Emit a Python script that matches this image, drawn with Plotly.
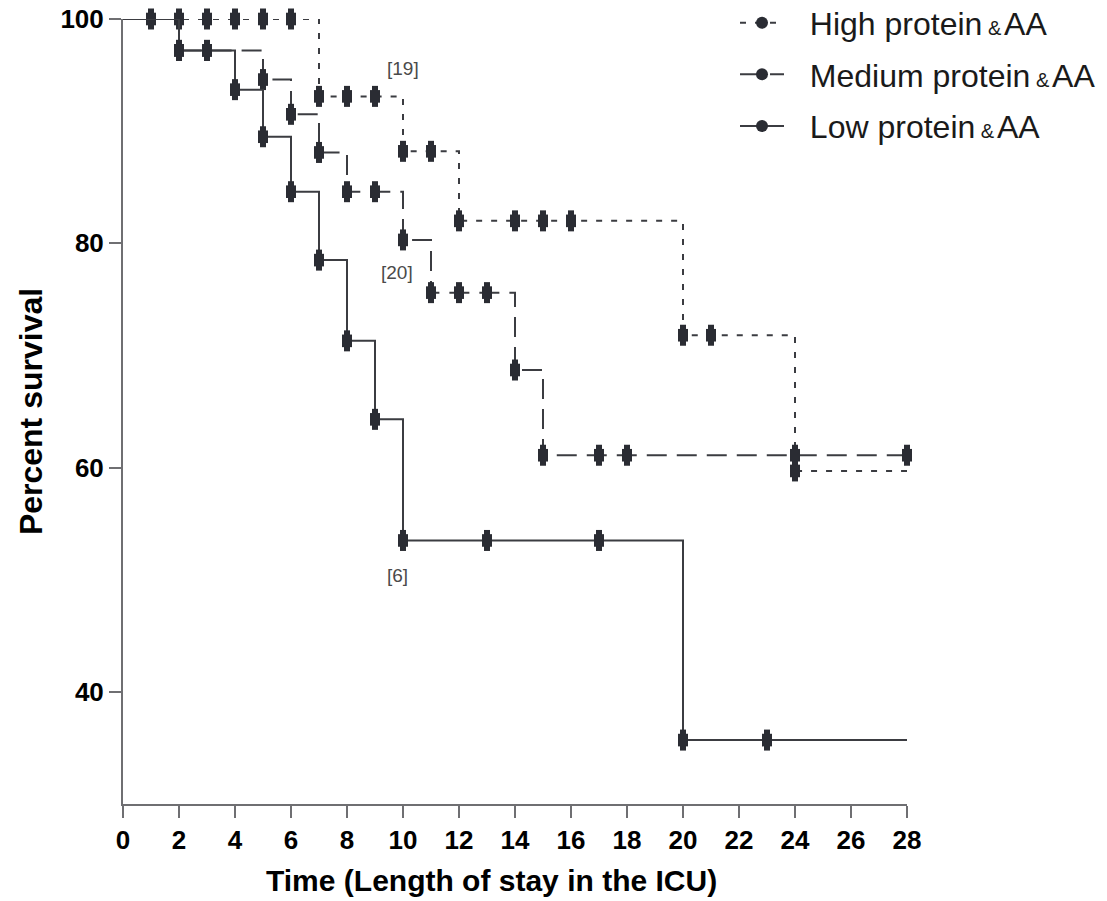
import plotly.graph_objects as go

# Kaplan-Meier survival by protein & amino-acid intake group
x_end = 28

high_times = [0, 7, 10, 12, 20, 24]
high_surv = [100, 93.1, 88.2, 82.0, 71.8, 59.7]
high_marks = [1, 2, 3, 4, 5, 6, 7, 8, 9, 10, 11, 12, 14, 15, 16, 20, 21, 24]

med_times = [0, 2, 5, 6, 7, 8, 10, 11, 14, 15]
med_surv = [100, 97.2, 94.6, 91.5, 88.1, 84.6, 80.3, 75.6, 68.7, 61.1]
med_marks = [2, 3, 5, 6, 7, 8, 9, 10, 11, 12, 13, 14, 15, 17, 18, 24, 28]

low_times = [0, 2, 4, 5, 6, 7, 8, 9, 10, 20]
low_surv = [100, 97.2, 93.7, 89.5, 84.6, 78.5, 71.3, 64.3, 53.5, 35.7]
low_marks = [2, 3, 4, 5, 6, 7, 8, 9, 10, 13, 17, 20, 23]

group_labels = ["High protein", "Medium protein", "Low protein"]

risk_labels = ["[19]", "[20]", "[6]"]
risk_x = [10.0, 9.8, 9.8]
risk_y = [95.6, 77.4, 50.4]

x_ticks = list(range(0, 29, 2))
y_ticks = [40, 60, 80, 100]

LINE_COL = "#3b3c41"
MARK_COL = "#2a2c33"
AXIS_COL = "#6f6f72"
FONT = "Liberation Sans, Arial, sans-serif"
NB = "\u00a0"

# layered marker pieces that together form an upright capsule
MARK_LAYERS = [
    dict(symbol="circle", size=10, line=dict(width=0)),
    dict(symbol="line-ns", size=9, line=dict(width=10, color=MARK_COL)),
    dict(symbol="line-ns", size=15, line=dict(width=6, color=MARK_COL)),
]


def legend_name(label):
    # leading gap after the symbol, small ampersand before "AA"
    return (f"<span style='font-size:25px'>{NB * 3}</span>{label}"
            f"<span style='font-size:20px'>{NB}&amp;</span>"
            f"<span style='font-size:10px'>{NB}</span>AA")


def surv_at(t, times, surv):
    val = surv[0]
    for ti, si in zip(times, surv):
        if ti <= t:
            val = si
    return val


groups = [
    (high_times, high_surv, high_marks, "6px,9px"),
    (med_times, med_surv, med_marks, "20px,10px"),
    (low_times, low_surv, low_marks, "solid"),
]

fig = go.Figure()
for i, (times, surv, marks, dash) in enumerate(groups):
    gid = f"g{i}"
    fig.add_trace(go.Scatter(
        x=times + [x_end], y=surv + [surv[-1]],
        mode="lines", line=dict(shape="hv", color=LINE_COL, width=2, dash=dash),
        showlegend=False, legendgroup=gid, hoverinfo="skip",
    ))
    mark_y = [surv_at(t, times, surv) for t in marks]
    for layer in MARK_LAYERS:
        fig.add_trace(go.Scatter(
            x=marks, y=mark_y, mode="markers",
            marker=dict(color=MARK_COL, **layer),
            showlegend=False, legendgroup=gid, cliponaxis=False, hoverinfo="skip",
        ))
    # legend entry: line style with marker
    fig.add_trace(go.Scatter(
        x=[None], y=[None], name=legend_name(group_labels[i]), legendgroup=gid,
        mode="lines+markers",
        line=dict(color=LINE_COL, width=2, dash=dash),
        marker=dict(symbol="circle", size=12, color=MARK_COL),
    ))

for txt, xv, yv in zip(risk_labels, risk_x, risk_y):
    fig.add_annotation(x=xv, y=yv, text=txt, showarrow=False,
                       font=dict(family=FONT, size=19, color="#4a4a4a"))

# x axis title
fig.add_annotation(x=0.47, y=-0.0975, xref="paper", yref="paper",
                   xanchor="center", yanchor="middle", showarrow=False,
                   text="Time (Length of stay in the ICU)",
                   font=dict(family=FONT, size=30, color="#000000", weight="bold"))

# y axis line continues slightly below the x axis
fig.add_shape(type="line", xref="paper", yref="paper", x0=0, x1=0,
              y0=0, y1=-12 / 785, line=dict(color=AXIS_COL, width=2))

axis_common = dict(
    showline=True, linecolor=AXIS_COL, linewidth=2,
    ticks="outside", ticklen=12, tickwidth=2, tickcolor=AXIS_COL,
    showgrid=False, zeroline=False,
    tickfont=dict(family=FONT, size=26, color="#000000", weight="bold"),
)

fig.update_layout(
    width=1107, height=901,
    margin=dict(l=123, r=200, t=19, b=97, autoexpand=False),
    paper_bgcolor="white", plot_bgcolor="white",
    xaxis=dict(range=[0, x_end], tickvals=x_ticks, **axis_common),
    yaxis=dict(range=[30, 100], tickvals=y_ticks,
               title=dict(text="Percent survival", standoff=8,
                          font=dict(family=FONT, size=32, color="#000000", weight="bold")),
               **axis_common),
    legend=dict(x=(735 - 123) / 784, y=1.03, xanchor="left", yanchor="top",
                traceorder="grouped", tracegroupgap=7, itemwidth=44,
                bgcolor="rgba(0,0,0,0)",
                font=dict(family=FONT, size=32, color="#1a1a1a")),
    showlegend=True,
)

fig.write_html("out.html")
